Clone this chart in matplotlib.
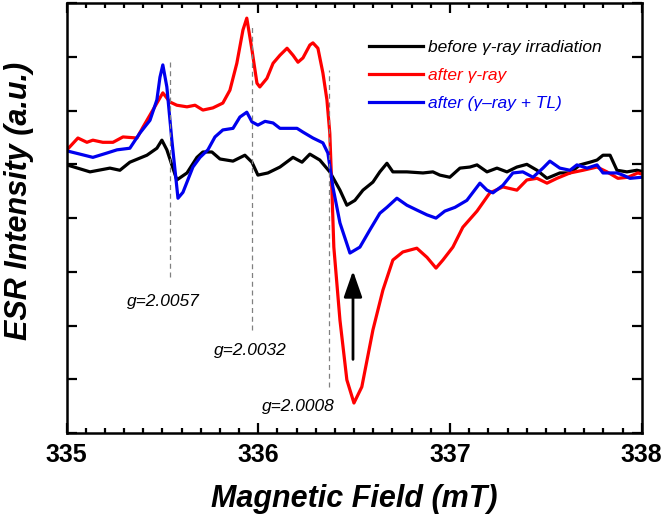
import matplotlib
matplotlib.use("Agg")
import matplotlib.pyplot as plt
from matplotlib.ticker import MultipleLocator, NullFormatter

plt.rcParams['font.family'] = ['Liberation Sans', 'DejaVu Sans']

# before gamma-ray irradiation (field in mT, intensity a.u.)
before_x = [335.002, 335.122, 335.226, 335.278, 335.330, 335.419, 335.471, 335.497, 335.523, 335.575,
            335.628, 335.680, 335.711, 335.758, 335.800, 335.868, 335.930, 335.967, 335.998, 336.050,
            336.113, 336.181, 336.228, 336.269, 336.321, 336.373, 336.426, 336.462, 336.504, 336.546,
            336.598, 336.634, 336.671, 336.702, 336.775, 336.859, 336.911, 336.947, 336.999, 337.052,
            337.104, 337.141, 337.193, 337.245, 337.297, 337.349, 337.401, 337.454, 337.506, 337.573,
            337.626, 337.678, 337.730, 337.767, 337.798, 337.835, 337.871, 337.923, 337.975, 338.001]
before_y = [0.99, 0.86, 0.93, 0.89, 1.04, 1.17, 1.30, 1.45, 1.27, 0.71,
            0.84, 1.13, 1.23, 1.23, 1.10, 1.06, 1.17, 1.04, 0.80, 0.84,
            0.95, 1.13, 1.04, 1.19, 1.08, 0.86, 0.52, 0.24, 0.33, 0.52,
            0.67, 0.86, 1.02, 0.86, 0.86, 0.84, 0.86, 0.80, 0.76, 0.93,
            0.95, 0.99, 0.86, 0.93, 0.86, 0.95, 1.00, 0.89, 0.74, 0.84,
            0.84, 0.99, 1.04, 1.08, 1.17, 1.17, 0.89, 0.86, 0.89, 0.87]

# after gamma-ray
gamma_x = [335.002, 335.059, 335.106, 335.137, 335.189, 335.242, 335.294, 335.367, 335.398, 335.450,
           335.502, 335.539, 335.575, 335.628, 335.670, 335.711, 335.763, 335.815, 335.852, 335.888,
           335.920, 335.940, 335.967, 335.993, 336.008, 336.045, 336.077, 336.113, 336.150, 336.181,
           336.207, 336.233, 336.269, 336.285, 336.311, 336.337, 336.358, 336.373, 336.384, 336.394,
           336.426, 336.462, 336.499, 336.540, 336.598, 336.650, 336.702, 336.754, 336.827, 336.880,
           336.927, 336.963, 337.015, 337.067, 337.141, 337.208, 337.276, 337.349, 337.401, 337.454,
           337.506, 337.558, 337.626, 337.694, 337.767, 337.819, 337.876, 337.928, 337.980, 338.001]
gamma_y = [1.27, 1.49, 1.41, 1.45, 1.41, 1.41, 1.51, 1.49, 1.69, 2.01,
           2.33, 2.16, 2.10, 2.07, 2.10, 2.01, 2.05, 2.14, 2.38, 2.88,
           3.50, 3.72, 3.13, 2.51, 2.44, 2.60, 2.88, 3.03, 3.16, 3.03,
           2.90, 2.98, 3.22, 3.26, 3.16, 2.70, 2.20, 1.58, 0.52, -0.54,
           -1.90, -3.01, -3.44, -3.14, -2.08, -1.34, -0.78, -0.63, -0.56, -0.73,
           -0.93, -0.78, -0.54, -0.17, 0.13, 0.47, 0.58, 0.52, 0.71, 0.74,
           0.65, 0.74, 0.84, 0.89, 0.95, 0.86, 0.74, 0.76, 0.84, 0.82]

# after gamma-ray + TL
tl_x = [335.002, 335.070, 335.137, 335.210, 335.263, 335.330, 335.382, 335.435, 335.471, 335.487,
        335.502, 335.523, 335.549, 335.581, 335.607, 335.659, 335.696, 335.737, 335.774, 335.815,
        335.868, 335.904, 335.940, 335.967, 335.998, 336.035, 336.077, 336.113, 336.165, 336.202,
        336.233, 336.285, 336.337, 336.363, 336.389, 336.426, 336.478, 336.530, 336.582, 336.634,
        336.671, 336.723, 336.775, 336.827, 336.880, 336.927, 336.973, 337.026, 337.088, 337.156,
        337.193, 337.224, 337.276, 337.328, 337.380, 337.433, 337.485, 337.521, 337.573, 337.626,
        337.662, 337.715, 337.767, 337.798, 337.871, 337.902, 337.939, 338.001]
tl_y = [1.25, 1.19, 1.13, 1.21, 1.27, 1.30, 1.58, 1.82, 2.20, 2.62,
        2.85, 2.44, 1.45, 0.37, 0.48, 0.95, 1.13, 1.27, 1.51, 1.64,
        1.67, 1.88, 1.97, 1.79, 1.73, 1.80, 1.77, 1.67, 1.67, 1.67,
        1.60, 1.49, 1.40, 1.21, 0.58, -0.09, -0.65, -0.54, -0.22, 0.09,
        0.20, 0.37, 0.24, 0.15, 0.06, 0.00, 0.13, 0.20, 0.33, 0.65,
        0.52, 0.47, 0.61, 0.84, 0.86, 0.76, 0.93, 1.06, 0.93, 0.89,
        0.99, 0.93, 0.99, 0.84, 0.84, 0.80, 0.74, 0.76]

# g-factor markers: field position, dashed line top / bottom, label position
g_labels = ["g=2.0057", "g=2.0032", "g=2.0008"]
g_field = [335.539, 335.967, 336.368]
g_top = [2.94, 3.59, 2.75]
g_bottom = [-1.10, -2.08, -3.14]
g_text_x = [335.503, 335.957, 336.207]
g_text_y = [-1.56, -2.46, -3.50]

fig = plt.figure(figsize=(6.66, 5.15), dpi=100)
ax = fig.add_axes([0.100, 0.159, 0.8635, 0.835])

ax.plot(before_x, before_y, color="black", lw=2.3, label="before \u03b3-ray irradiation")
ax.plot(gamma_x, gamma_y, color="#ff0000", lw=2.3, label="after \u03b3-ray")
ax.plot(tl_x, tl_y, color="#0000ee", lw=2.3, label="after (\u03b3\u2013ray + TL)")

for f, t, b in zip(g_field, g_top, g_bottom):
    ax.plot([f, f], [b, t], color="gray", lw=0.9, ls=(0, (4, 3)))
for lab, tx, ty in zip(g_labels, g_text_x, g_text_y):
    ax.text(tx, ty, lab, fontsize=12.5, style="italic", ha="center", va="center")

ax.annotate("", xy=(336.494, -0.93), xytext=(336.494, -2.68),
            arrowprops=dict(arrowstyle="-|>,head_length=0.8,head_width=0.28",
                            color="black", lw=2, mutation_scale=20))

ax.set_xlim(335, 338)
ax.set_ylim(-4, 4)
ax.xaxis.set_major_locator(MultipleLocator(1))
ax.xaxis.set_minor_locator(MultipleLocator(0.1))
ax.yaxis.set_major_locator(MultipleLocator(1))
ax.yaxis.set_major_formatter(NullFormatter())
ax.tick_params(which="both", direction="in", top=True, right=True, width=1.6)
ax.tick_params(which="major", length=7, labelsize=18, pad=7)
ax.tick_params(which="minor", length=3.5)
for lbl in ax.get_xticklabels():
    lbl.set_fontweight("bold")
for s in ax.spines.values():
    s.set_linewidth(1.8)

ax.set_xlabel("Magnetic Field (mT)", fontsize=22, fontweight="bold", style="italic")
ax.set_ylabel("ESR Intensity (a.u.)", fontsize=22, fontweight="bold", style="italic")
ax.xaxis.set_label_coords(0.5, -0.118)
ax.yaxis.set_label_coords(-0.056, 0.54)

leg = ax.legend(loc="upper left", bbox_to_anchor=(0.526, 0.914), frameon=False,
                handlelength=3.1, handletextpad=0.3, labelspacing=0.74,
                borderpad=0, borderaxespad=0, prop={"style": "italic", "size": 12.5})
for txt, c in zip(leg.get_texts(), ["black", "#ff0000", "#0000ee"]):
    txt.set_color(c)

fig.savefig("out.png", dpi=100)
